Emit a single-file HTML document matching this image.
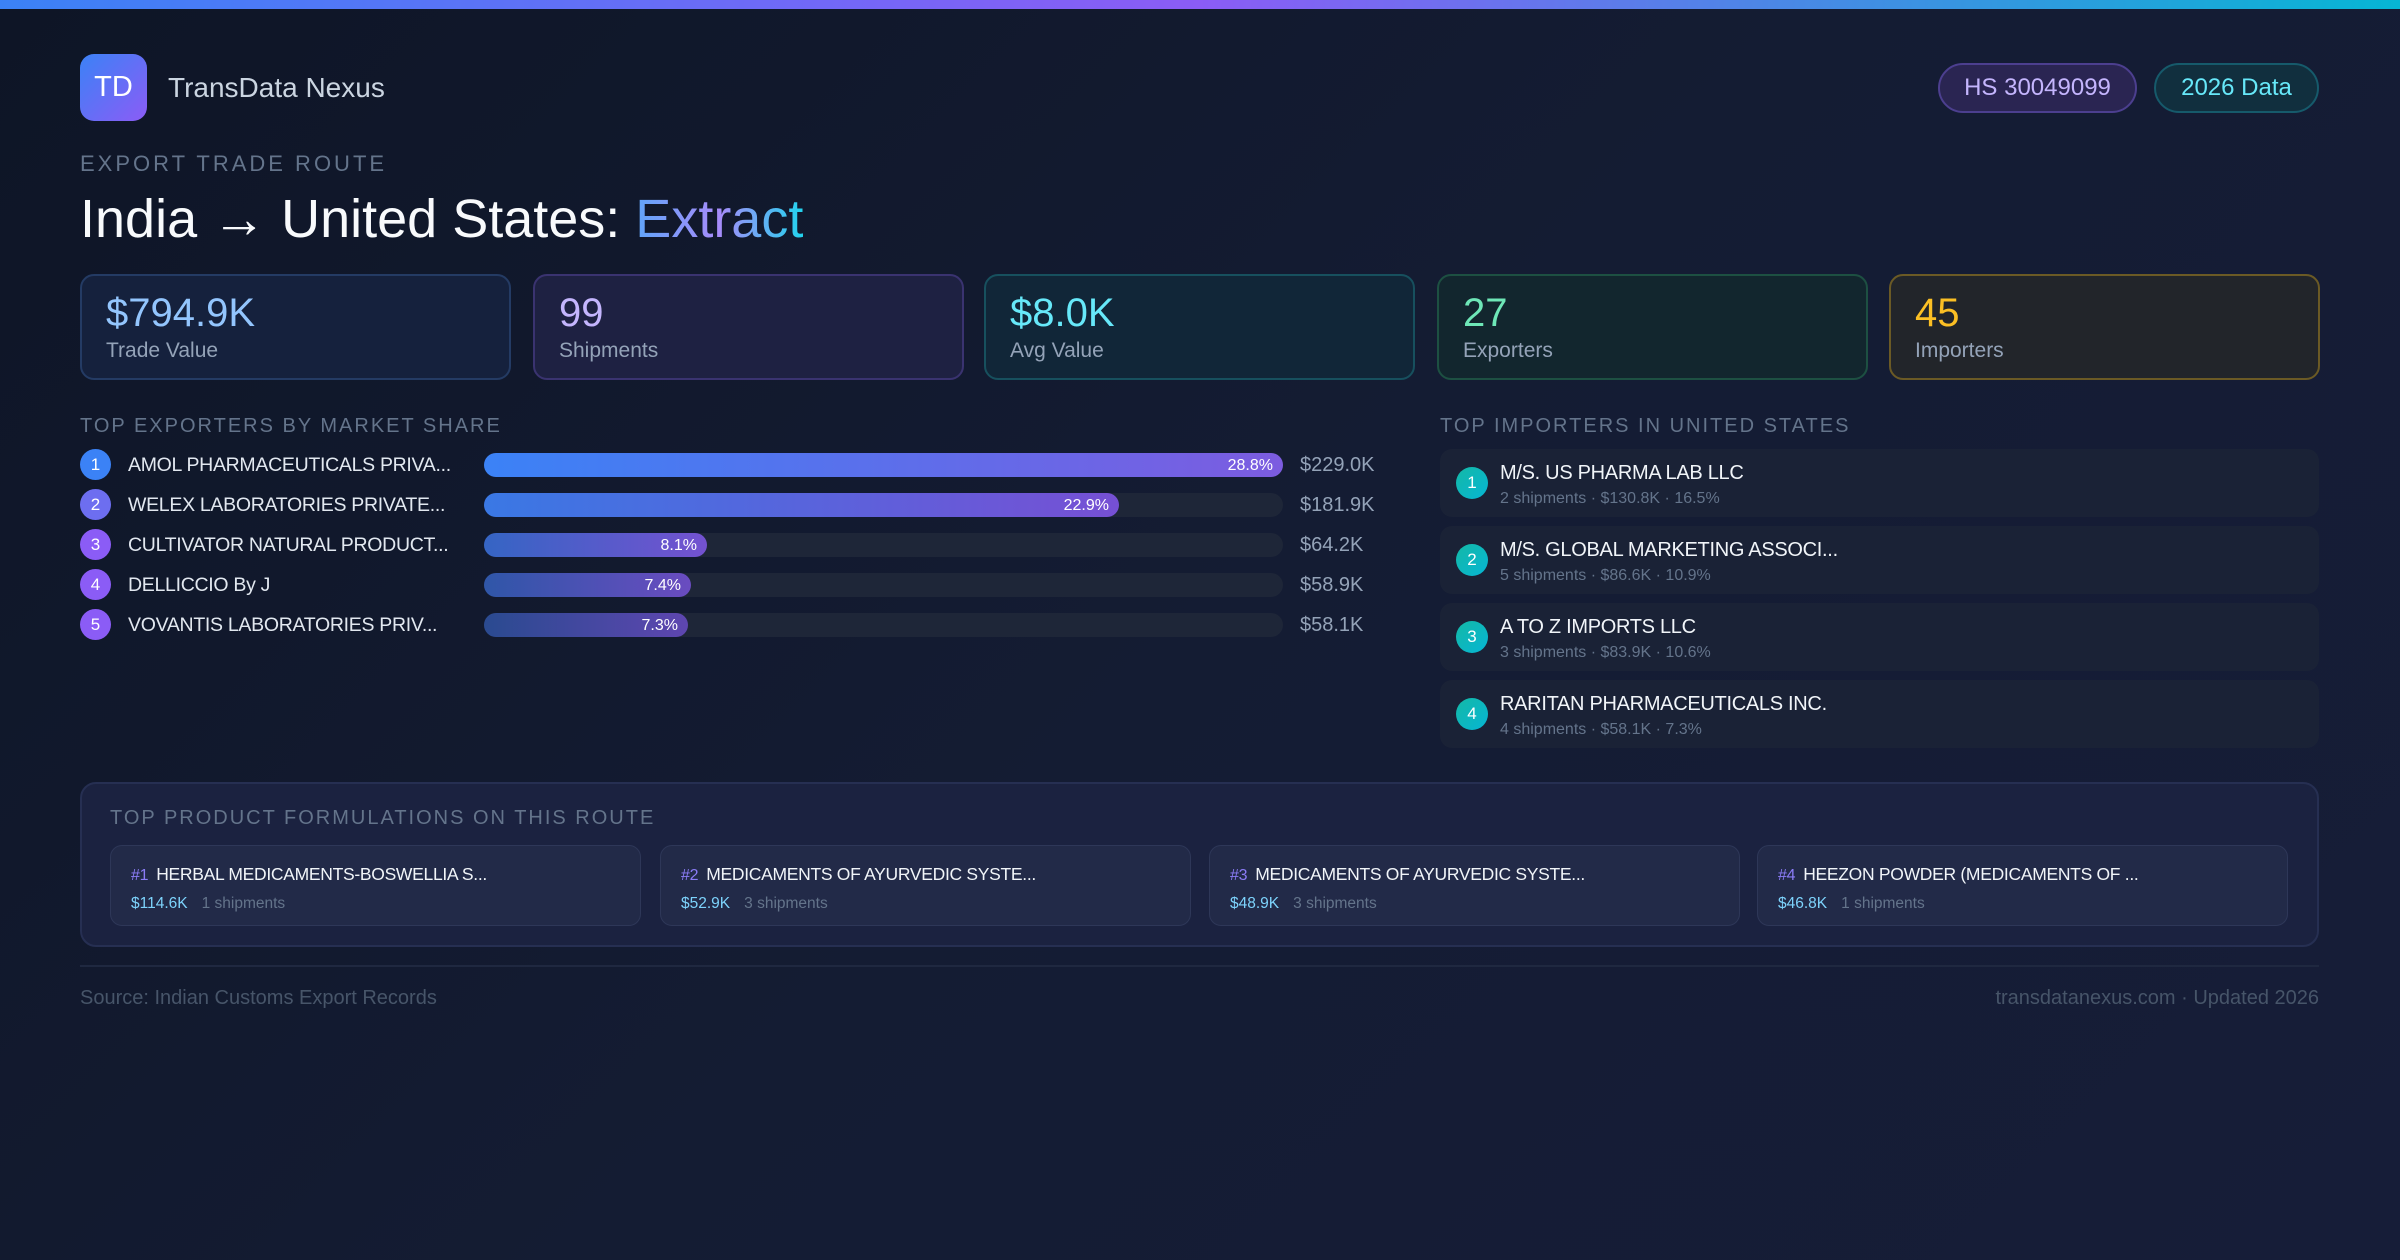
<!DOCTYPE html>
<html><head><meta charset="utf-8"><style>
*{margin:0;padding:0;box-sizing:border-box}
body{width:2400px;height:1260px;overflow:hidden;font-family:"Liberation Sans","Noto Sans CJK JP",sans-serif;background:linear-gradient(135deg,#0e1526 0%,#141c33 50%,#161d38 100%);color:#e2e8f0;position:relative}
.abs{position:absolute}
.topbar{left:0;top:0;width:2400px;height:9px;background:linear-gradient(90deg,#3b82f6,#8b5cf6 50%,#06b6d4)}
.logo{left:80px;top:54px;width:67px;height:67px;border-radius:14px;background:linear-gradient(135deg,#3b82f6,#8b5cf6);color:#fff;font-size:29px;display:flex;align-items:center;justify-content:center}
.pill{top:63px;height:50px;border-radius:25px;font-size:24px;display:flex;align-items:center;justify-content:center}
.card{top:274px;width:431px;height:106px;border-radius:14px;border:2px solid;padding:0 24px}
.card .v{font-size:40px;margin-top:13px;line-height:48px}
.card .l{font-size:21px;color:#94a3b8;margin-top:2px}
.sec{font-size:20px;letter-spacing:2px;color:#64748b}
.row{left:80px;height:32px;width:1300px}
.circ{position:absolute;left:0;top:0;width:31px;height:31px;border-radius:50%;color:#fff;font-size:17px;display:flex;align-items:center;justify-content:center}
.nm{position:absolute;left:48px;top:5px;font-size:19.5px;color:#e2e8f0;white-space:nowrap;letter-spacing:-0.3px}
.track{position:absolute;left:404px;top:4px;width:799px;height:24px;border-radius:12px;background:#1e2638}
.bar{position:absolute;left:0;top:0;height:24px;border-radius:12px;color:#fff;font-size:16px;text-align:right;padding-right:10px;line-height:25px}
.val{position:absolute;left:1220px;top:5px;font-size:20px;color:#94a3b8}
.imp{left:1440px;width:879px;height:68px;border-radius:12px;background:#1a2236}
.imp .c{position:absolute;left:16px;top:18px;width:32px;height:32px;border-radius:50%;background:linear-gradient(135deg,#14b8a6,#06b6d4);color:#fff;font-size:17px;display:flex;align-items:center;justify-content:center}
.imp .n{position:absolute;left:60px;top:13px;font-size:20px;color:#f1f5f9;letter-spacing:-0.3px}
.imp .s{position:absolute;left:60px;top:41px;font-size:16px;color:#64748b}
.prod{top:845px;width:531px;height:81px;border-radius:12px;background:#222a48;border:1.5px solid #2e3758}
.prod .t{position:absolute;left:20px;top:18px;font-size:17.5px;color:#f1f5f9;white-space:nowrap;letter-spacing:-0.3px}
.prod .t b{font-weight:normal;color:#8b7cf6;margin-right:8px;font-size:16px}
.prod .m{position:absolute;left:20px;top:49px;font-size:15.5px;color:#7dd3fc}
.prod .m span{color:#64748b;margin-left:14px}
</style></head><body>
<div class="abs topbar"></div>
<div class="abs logo">TD</div>
<div class="abs" style="left:168px;top:72px;font-size:28px;color:#cbd5e1">TransData Nexus</div>
<div class="abs pill" style="left:1938px;width:199px;background:#2a2552;border:2px solid #4c3f8f;color:#c4b5fd">HS 30049099</div>
<div class="abs pill" style="left:2154px;width:165px;background:#112f3e;border:2px solid #165a6b;color:#67e8f9">2026 Data</div>
<div class="abs" style="left:80px;top:151px;font-size:22px;letter-spacing:3px;color:#64748b">EXPORT TRADE ROUTE</div>
<div class="abs" style="left:80px;top:188px;font-size:54px;color:#f8fafc">India → United States: <span style="background:linear-gradient(90deg,#60a5fa,#a78bfa 50%,#22d3ee);-webkit-background-clip:text;color:transparent">Extract</span></div>

<div class="abs card" style="left:80px;background:#15213d;border-color:#243b64"><div class="v" style="color:#93c5fd">$794.9K</div><div class="l">Trade Value</div></div>
<div class="abs card" style="left:533px;background:#1e2142;border-color:#3a3370"><div class="v" style="color:#c4b5fd">99</div><div class="l">Shipments</div></div>
<div class="abs card" style="left:984px;background:#112638;border-color:#17505e"><div class="v" style="color:#67e8f9">$8.0K</div><div class="l">Avg Value</div></div>
<div class="abs card" style="left:1437px;background:#12262e;border-color:#1d5042"><div class="v" style="color:#6ee7b7">27</div><div class="l">Exporters</div></div>
<div class="abs card" style="left:1889px;background:#22252a;border-color:#6b5a25"><div class="v" style="color:#fbbf24">45</div><div class="l">Importers</div></div>

<div class="abs sec" style="left:80px;top:415px">TOP EXPORTERS BY MARKET SHARE</div>
<div class="abs row" style="top:449px"><div class="circ" style="background:#3b82f6">1</div><div class="nm">AMOL PHARMACEUTICALS PRIVA...</div><div class="track"><div class="bar" style="width:799px;background:linear-gradient(90deg,#3b82f6,#7c5ce0)">28.8%</div></div><div class="val">$229.0K</div></div>
<div class="abs row" style="top:489px"><div class="circ" style="background:#6d6ef0">2</div><div class="nm">WELEX LABORATORIES PRIVATE...</div><div class="track"><div class="bar" style="width:635px;background:linear-gradient(90deg,#3a78e4,#7650d4)">22.9%</div></div><div class="val">$181.9K</div></div>
<div class="abs row" style="top:529px"><div class="circ" style="background:#8b5cf6">3</div><div class="nm">CULTIVATOR NATURAL PRODUCT...</div><div class="track"><div class="bar" style="width:223px;background:linear-gradient(90deg,#3565c4,#7452d0)">8.1%</div></div><div class="val">$64.2K</div></div>
<div class="abs row" style="top:569px"><div class="circ" style="background:#8b5cf6">4</div><div class="nm">DELLICCIO By J</div><div class="track"><div class="bar" style="width:207px;background:linear-gradient(90deg,#2f56a8,#6a4cc0)">7.4%</div></div><div class="val">$58.9K</div></div>
<div class="abs row" style="top:609px"><div class="circ" style="background:#8b5cf6">5</div><div class="nm">VOVANTIS LABORATORIES PRIV...</div><div class="track"><div class="bar" style="width:204px;background:linear-gradient(90deg,#2a4a90,#5e46b0)">7.3%</div></div><div class="val">$58.1K</div></div>

<div class="abs sec" style="left:1440px;top:415px">TOP IMPORTERS IN UNITED STATES</div>
<div class="abs imp" style="top:449px"><div class="c">1</div><div class="n">M/S. US PHARMA LAB LLC</div><div class="s">2 shipments · $130.8K · 16.5%</div></div>
<div class="abs imp" style="top:526px"><div class="c">2</div><div class="n">M/S. GLOBAL MARKETING ASSOCI...</div><div class="s">5 shipments · $86.6K · 10.9%</div></div>
<div class="abs imp" style="top:603px"><div class="c">3</div><div class="n">A TO Z IMPORTS LLC</div><div class="s">3 shipments · $83.9K · 10.6%</div></div>
<div class="abs imp" style="top:680px"><div class="c">4</div><div class="n">RARITAN PHARMACEUTICALS INC.</div><div class="s">4 shipments · $58.1K · 7.3%</div></div>

<div class="abs" style="left:80px;top:782px;width:2239px;height:165px;border-radius:16px;background:#1b2240;border:2px solid #262f52"></div>
<div class="abs sec" style="left:110px;top:807px">TOP PRODUCT FORMULATIONS ON THIS ROUTE</div>
<div class="abs prod" style="left:110px"><div class="t"><b>#1</b>HERBAL MEDICAMENTS-BOSWELLIA S...</div><div class="m">$114.6K<span>1 shipments</span></div></div>
<div class="abs prod" style="left:660px"><div class="t"><b>#2</b>MEDICAMENTS OF AYURVEDIC SYSTE...</div><div class="m">$52.9K<span>3 shipments</span></div></div>
<div class="abs prod" style="left:1209px"><div class="t"><b>#3</b>MEDICAMENTS OF AYURVEDIC SYSTE...</div><div class="m">$48.9K<span>3 shipments</span></div></div>
<div class="abs prod" style="left:1757px"><div class="t"><b>#4</b>HEEZON POWDER (MEDICAMENTS OF ...</div><div class="m">$46.8K<span>1 shipments</span></div></div>

<div class="abs" style="left:80px;top:965px;width:2239px;height:2px;background:#1f2840"></div>
<div class="abs" style="left:80px;top:987px;font-size:20px;color:#475569">Source: Indian Customs Export Records</div>
<div class="abs" style="right:81px;top:987px;font-size:20px;color:#475569">transdatanexus.com · Updated 2026</div>
</body></html>
